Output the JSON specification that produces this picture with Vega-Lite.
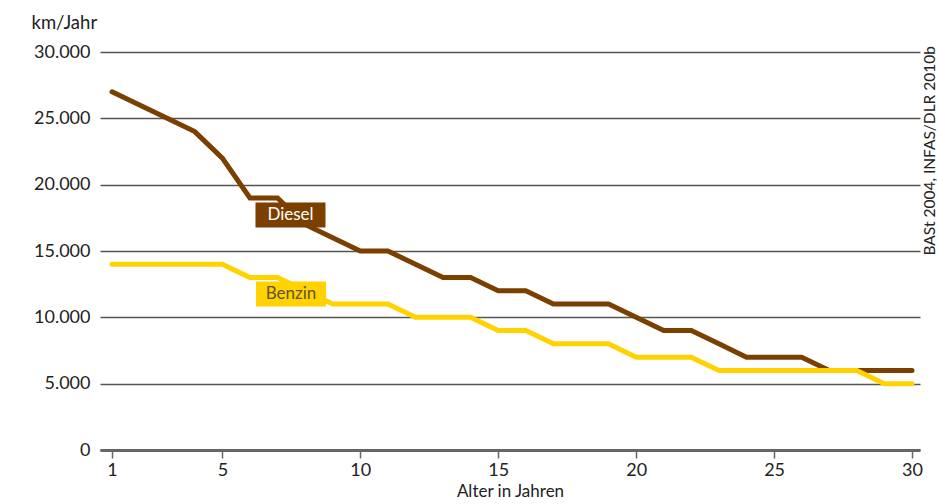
{
  "$schema": "https://vega.github.io/schema/vega-lite/v6.json",
  "width": 820,
  "height": 398,
  "autosize": {"type": "none"},
  "padding": {"left": 100, "top": 52, "right": 17, "bottom": 54},
  "background": "white",
  "config": {"view": {"stroke": null}, "font": "Lato"},
  "datasets": {
    "series": [
      {"Alter": 1, "km": 27000, "Kraftstoff": "Diesel"},
      {"Alter": 2, "km": 26000, "Kraftstoff": "Diesel"},
      {"Alter": 3, "km": 25000, "Kraftstoff": "Diesel"},
      {"Alter": 4, "km": 24000, "Kraftstoff": "Diesel"},
      {"Alter": 5, "km": 22000, "Kraftstoff": "Diesel"},
      {"Alter": 6, "km": 19000, "Kraftstoff": "Diesel"},
      {"Alter": 7, "km": 19000, "Kraftstoff": "Diesel"},
      {"Alter": 8, "km": 17000, "Kraftstoff": "Diesel"},
      {"Alter": 9, "km": 16000, "Kraftstoff": "Diesel"},
      {"Alter": 10, "km": 15000, "Kraftstoff": "Diesel"},
      {"Alter": 11, "km": 15000, "Kraftstoff": "Diesel"},
      {"Alter": 12, "km": 14000, "Kraftstoff": "Diesel"},
      {"Alter": 13, "km": 13000, "Kraftstoff": "Diesel"},
      {"Alter": 14, "km": 13000, "Kraftstoff": "Diesel"},
      {"Alter": 15, "km": 12000, "Kraftstoff": "Diesel"},
      {"Alter": 16, "km": 12000, "Kraftstoff": "Diesel"},
      {"Alter": 17, "km": 11000, "Kraftstoff": "Diesel"},
      {"Alter": 18, "km": 11000, "Kraftstoff": "Diesel"},
      {"Alter": 19, "km": 11000, "Kraftstoff": "Diesel"},
      {"Alter": 20, "km": 10000, "Kraftstoff": "Diesel"},
      {"Alter": 21, "km": 9000, "Kraftstoff": "Diesel"},
      {"Alter": 22, "km": 9000, "Kraftstoff": "Diesel"},
      {"Alter": 23, "km": 8000, "Kraftstoff": "Diesel"},
      {"Alter": 24, "km": 7000, "Kraftstoff": "Diesel"},
      {"Alter": 25, "km": 7000, "Kraftstoff": "Diesel"},
      {"Alter": 26, "km": 7000, "Kraftstoff": "Diesel"},
      {"Alter": 27, "km": 6000, "Kraftstoff": "Diesel"},
      {"Alter": 28, "km": 6000, "Kraftstoff": "Diesel"},
      {"Alter": 29, "km": 6000, "Kraftstoff": "Diesel"},
      {"Alter": 30, "km": 6000, "Kraftstoff": "Diesel"},
      {"Alter": 1, "km": 14000, "Kraftstoff": "Benzin"},
      {"Alter": 2, "km": 14000, "Kraftstoff": "Benzin"},
      {"Alter": 3, "km": 14000, "Kraftstoff": "Benzin"},
      {"Alter": 4, "km": 14000, "Kraftstoff": "Benzin"},
      {"Alter": 5, "km": 14000, "Kraftstoff": "Benzin"},
      {"Alter": 6, "km": 13000, "Kraftstoff": "Benzin"},
      {"Alter": 7, "km": 13000, "Kraftstoff": "Benzin"},
      {"Alter": 8, "km": 12000, "Kraftstoff": "Benzin"},
      {"Alter": 9, "km": 11000, "Kraftstoff": "Benzin"},
      {"Alter": 10, "km": 11000, "Kraftstoff": "Benzin"},
      {"Alter": 11, "km": 11000, "Kraftstoff": "Benzin"},
      {"Alter": 12, "km": 10000, "Kraftstoff": "Benzin"},
      {"Alter": 13, "km": 10000, "Kraftstoff": "Benzin"},
      {"Alter": 14, "km": 10000, "Kraftstoff": "Benzin"},
      {"Alter": 15, "km": 9000, "Kraftstoff": "Benzin"},
      {"Alter": 16, "km": 9000, "Kraftstoff": "Benzin"},
      {"Alter": 17, "km": 8000, "Kraftstoff": "Benzin"},
      {"Alter": 18, "km": 8000, "Kraftstoff": "Benzin"},
      {"Alter": 19, "km": 8000, "Kraftstoff": "Benzin"},
      {"Alter": 20, "km": 7000, "Kraftstoff": "Benzin"},
      {"Alter": 21, "km": 7000, "Kraftstoff": "Benzin"},
      {"Alter": 22, "km": 7000, "Kraftstoff": "Benzin"},
      {"Alter": 23, "km": 6000, "Kraftstoff": "Benzin"},
      {"Alter": 24, "km": 6000, "Kraftstoff": "Benzin"},
      {"Alter": 25, "km": 6000, "Kraftstoff": "Benzin"},
      {"Alter": 26, "km": 6000, "Kraftstoff": "Benzin"},
      {"Alter": 27, "km": 6000, "Kraftstoff": "Benzin"},
      {"Alter": 28, "km": 6000, "Kraftstoff": "Benzin"},
      {"Alter": 29, "km": 5000, "Kraftstoff": "Benzin"},
      {"Alter": 30, "km": 5000, "Kraftstoff": "Benzin"}
    ],
    "labels": [
      {"Alter": 7.47, "km": 17714, "Kraftstoff": "Diesel"},
      {"Alter": 7.49, "km": 11759, "Kraftstoff": "Benzin"}
    ]
  },
  "resolve": {"axis": {"y": "independent"}},
  "layer": [
    {
      "data": {"name": "series"},
      "transform": [{"filter": "datum.Kraftstoff === 'Diesel'"}],
      "mark": {"type": "line", "color": "#7B3F00", "strokeWidth": 5, "strokeCap": "round"},
      "encoding": {
        "x": {
          "field": "Alter", "type": "quantitative",
          "scale": {"domain": [0.565, 30.29], "nice": false, "zero": false},
          "axis": {
            "values": [1, 5, 10, 15, 20, 25, 30],
            "grid": false,
            "domain": true, "domainColor": "#666666", "domainWidth": 3,
            "ticks": true, "tickColor": "#666666", "tickWidth": 1.5, "tickSize": 8,
            "labelFontSize": 18, "labelColor": "#222222", "labelPadding": 3,
            "title": "Alter in Jahren", "titleFontSize": 17, "titleFontWeight": "normal",
            "titleColor": "#222222", "titlePadding": 4
          }
        },
        "y": {
          "field": "km", "type": "quantitative",
          "scale": {"domain": [0, 30000], "nice": false},
          "axis": {
            "values": [0, 5000, 10000, 15000, 20000, 25000, 30000],
            "labelExpr": "replace(format(datum.value, ','), ',', '.')",
            "grid": true, "gridColor": "#555555", "gridWidth": 1.5,
            "domain": false, "ticks": false,
            "labelFontSize": 18, "labelColor": "#222222", "labelPadding": 10,
            "title": "km/Jahr", "titleAngle": 0, "titleX": -69, "titleY": -30,
            "titleAlign": "left", "titleBaseline": "middle",
            "titleFontSize": 18.5, "titleFontWeight": "normal", "titleColor": "#222222"
          }
        }
      }
    },
    {
      "data": {"name": "series"},
      "transform": [{"filter": "datum.Kraftstoff === 'Benzin'"}],
      "mark": {"type": "line", "color": "#FFD200", "strokeWidth": 5, "strokeCap": "round"},
      "encoding": {
        "x": {"field": "Alter", "type": "quantitative"},
        "y": {"field": "km", "type": "quantitative", "axis": null}
      }
    },
    {
      "data": {"name": "labels"},
      "mark": {"type": "point", "shape": "M-1,-0.36L1,-0.36L1,0.36L-1,0.36Z", "size": 4900, "filled": true, "opacity": 1, "strokeWidth": 0},
      "encoding": {
        "x": {"field": "Alter", "type": "quantitative"},
        "y": {"field": "km", "type": "quantitative", "axis": null},
        "color": {
          "field": "Kraftstoff", "type": "nominal",
          "scale": {"domain": ["Diesel", "Benzin"], "range": ["#7B3F00", "#FFD200"]},
          "legend": null
        }
      }
    },
    {
      "data": {"name": "labels"},
      "mark": {"type": "text", "fontSize": 17, "align": "center", "baseline": "middle"},
      "encoding": {
        "x": {"field": "Alter", "type": "quantitative"},
        "y": {"field": "km", "type": "quantitative", "axis": null},
        "text": {"field": "Kraftstoff"},
        "color": {"condition": {"test": "datum.Kraftstoff === 'Diesel'", "value": "#ffffff"}, "value": "#5e5434"}
      }
    },
    {
      "data": {"name": "labels"},
      "mark": {"type": "point", "opacity": 0},
      "encoding": {
        "y": {
          "field": "km", "type": "quantitative",
          "axis": {
            "orient": "right", "labels": false, "ticks": false, "grid": false, "domain": false,
            "title": "BASt 2004, INFAS/DLR 2010b", "titleAngle": 270,
            "titleX": 9, "titleY": 203, "titleAlign": "left", "titleBaseline": "middle",
            "titleFontSize": 15.5, "titleFontWeight": "normal", "titleColor": "#222222"
          }
        }
      }
    }
  ]
}
